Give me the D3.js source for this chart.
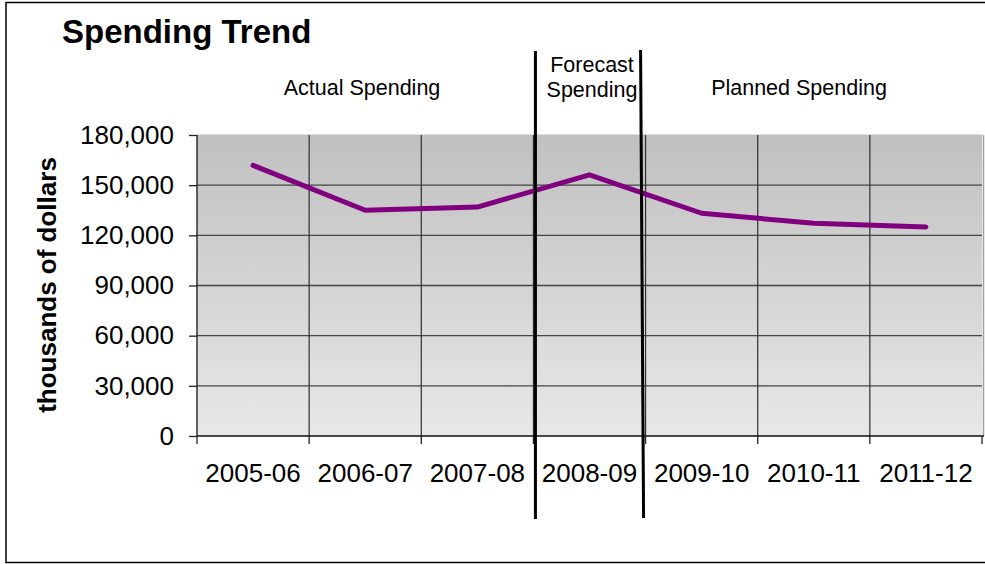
<!DOCTYPE html>
<html lang="en">
<meta charset="utf-8">
<head>
    <script src='https://d3js.org/d3.v7.min.js'></script>
    <style>
        body { margin: 0; background: #fff; }
        text { font-family: 'Liberation Sans', Arial, sans-serif; fill: #000; }
    </style>
</head>
<body>
</body>

<script>
    // chart data
    var years = ['2005-06', '2006-07', '2007-08', '2008-09', '2009-10', '2010-11', '2011-12'];
    var spending = [161800, 135000, 136900, 156200, 133200, 127200, 125000];
    var yTicks = [0, 30000, 60000, 90000, 120000, 150000, 180000];
    var periods = ['Actual Spending', 'Forecast\nSpending', 'Planned Spending'];

    var width = 985, height = 564;
    // note: "top" is a read-only window global, so use other names
    var plotL = 197, plotR = 982, plotT = 135, plotB = 436;

    var svg = d3.select('body').append('svg').attr('width', width).attr('height', height);

    // outer frame
    svg.append('rect')
        .attr('x', 6).attr('y', 2.5).attr('width', 1000).attr('height', 560)
        .attr('fill', 'none').attr('stroke', '#000').attr('stroke-width', 1.5);

    var x = d3.scaleBand().domain(years).range([plotL, plotR]).padding(0);
    var y = d3.scaleLinear().domain([0, 180000]).range([plotB, plotT]);

    // plot background gradient
    var grad = svg.append('defs').append('linearGradient')
        .attr('id', 'bg').attr('x1', 0).attr('y1', 0).attr('x2', 0).attr('y2', 1);
    grad.append('stop').attr('offset', '0%').attr('stop-color', '#c0c0c0');
    grad.append('stop').attr('offset', '100%').attr('stop-color', '#e8e8e8');

    svg.append('rect')
        .attr('x', plotL).attr('y', plotT - 0.5)
        .attr('width', plotR - plotL).attr('height', plotB - plotT + 0.5)
        .attr('fill', 'url(#bg)');
    // right plot border
    svg.append('line')
        .attr('x1', plotR + 1.5).attr('x2', plotR + 1.5)
        .attr('y1', plotT).attr('y2', plotB)
        .attr('stroke', '#a0a0a0').attr('stroke-width', 1.5);

    // horizontal gridlines
    svg.append('g').selectAll('line')
        .data(yTicks.filter(function(d) { return d > 0 && d < 180000; }))
        .join('line')
        .attr('x1', plotL).attr('x2', plotR)
        .attr('y1', function(d) { return y(d); })
        .attr('y2', function(d) { return y(d); })
        .attr('stroke', '#454545').attr('stroke-width', 1.4);

    // vertical gridlines at category boundaries
    svg.append('g').selectAll('line')
        .data(years.slice(1))
        .join('line')
        .attr('x1', function(d) { return x(d); })
        .attr('x2', function(d) { return x(d); })
        .attr('y1', plotT).attr('y2', plotB)
        .attr('stroke', '#303030').attr('stroke-width', 1.2);

    // y axis
    var yAxis = svg.append('g')
        .attr('transform', 'translate(' + plotL + ',0)')
        .call(d3.axisLeft(y).tickValues(yTicks).tickFormat(d3.format(',')).tickSize(8).tickPadding(15));
    yAxis.select('.domain').attr('stroke', '#222').attr('stroke-width', 1.4).attr('d', 'M0,' + plotT + 'V' + plotB);
    yAxis.selectAll('.tick line').attr('stroke', '#222').attr('stroke-width', 1.3);
    yAxis.selectAll('.tick text')
        .style('font-family', "'Liberation Sans', Arial, sans-serif")
        .style('font-size', '26px').attr('fill', '#000');

    // x axis with ticks at category boundaries
    var xg = svg.append('g');
    xg.append('line')
        .attr('x1', plotL).attr('x2', plotR + 2)
        .attr('y1', plotB).attr('y2', plotB)
        .attr('stroke', '#111').attr('stroke-width', 1.6);
    xg.selectAll('line.tk')
        .data(years.concat(['end']))
        .join('line').attr('class', 'tk')
        .attr('x1', function(d, i) { return plotL + i * x.bandwidth(); })
        .attr('x2', function(d, i) { return plotL + i * x.bandwidth(); })
        .attr('y1', plotB).attr('y2', plotB + 8)
        .attr('stroke', '#222').attr('stroke-width', 1.3);
    xg.selectAll('text')
        .data(years)
        .join('text')
        .attr('x', function(d) { return x(d) + x.bandwidth() / 2; })
        .attr('y', 482)
        .attr('text-anchor', 'middle')
        .style('font-size', '26px')
        .text(function(d) { return d; });

    // spending line
    var line = d3.line()
        .x(function(d, i) { return x(years[i]) + x.bandwidth() / 2; })
        .y(function(d) { return y(d); });
    svg.append('path')
        .datum(spending)
        .attr('d', line)
        .attr('fill', 'none')
        .attr('stroke', '#800080')
        .attr('stroke-width', 5)
        .attr('stroke-linejoin', 'round')
        .attr('stroke-linecap', 'round');

    // period separators
    var sep1 = x('2008-09') + 2, sep2 = x('2009-10') - 4;
    svg.append('line')
        .attr('x1', sep1).attr('x2', sep1).attr('y1', 51).attr('y2', 519)
        .attr('stroke', '#000').attr('stroke-width', 3);
    svg.append('line')
        .attr('x1', sep2 - 1).attr('x2', sep2 + 2).attr('y1', 50).attr('y2', 518)
        .attr('stroke', '#000').attr('stroke-width', 3);

    // period labels
    var labelX = [362, 592, 799];
    periods.forEach(function(p, i) {
        var lines = p.split('\n');
        var t = svg.append('text')
            .attr('x', labelX[i])
            .attr('y', lines.length > 1 ? 72 : 95)
            .attr('text-anchor', 'middle')
            .style('font-size', '21.5px');
        lines.forEach(function(l, j) {
            t.append('tspan').attr('x', labelX[i]).attr('dy', j === 0 ? 0 : 25).text(l);
        });
    });

    // title
    svg.append('text')
        .attr('x', 62).attr('y', 43)
        .style('font-size', '33px').style('font-weight', 'bold')
        .text('Spending Trend');

    // y axis title
    svg.append('text')
        .attr('transform', 'translate(56,285) rotate(-90)')
        .attr('text-anchor', 'middle')
        .style('font-size', '26px').style('font-weight', 'bold')
        .text('thousands of dollars');

    console.log('ready..');
</script>
